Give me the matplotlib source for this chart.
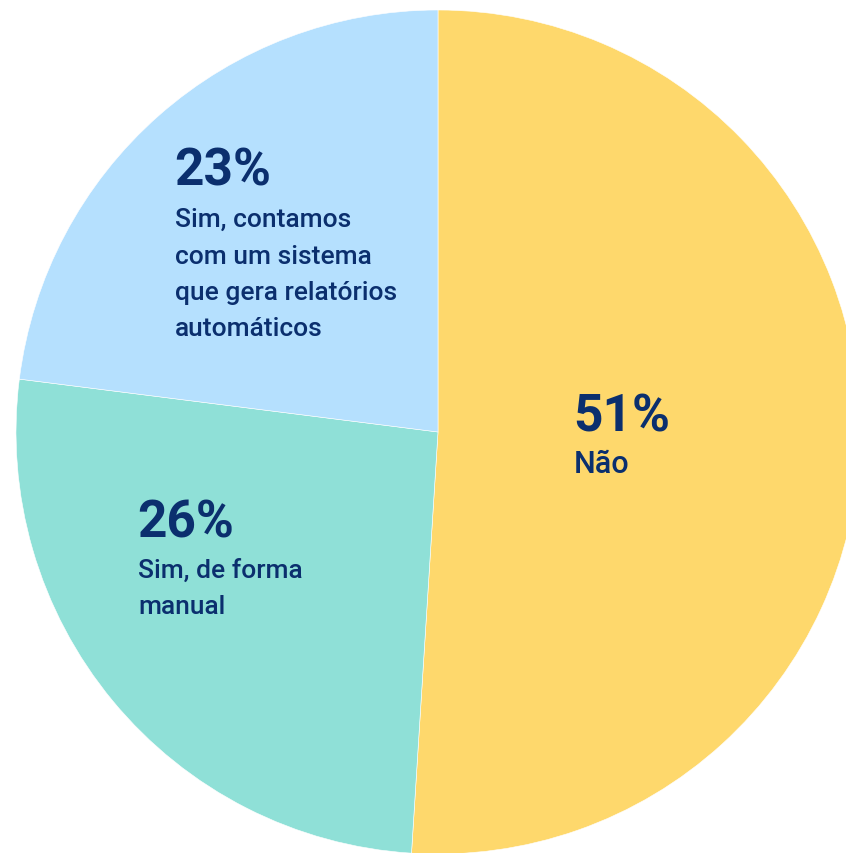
import matplotlib
matplotlib.use("Agg")
import matplotlib.pyplot as plt

# Survey answers, clockwise from the top
percentages = [51, 26, 23]
answers = [
    ["Não"],
    ["Sim, de forma", "manual"],
    ["Sim, contamos", "com um sistema", "que gera relatórios", "automáticos"],
]
colors = ["#FED86C", "#8FE0D7", "#B5E0FE"]
text_color = "#0B2F6E"

W, H = 846, 854
fig = plt.figure(figsize=(W / 100, H / 100), dpi=100)
ax = fig.add_axes([0, 0, 1, 1])

cx, cy, r = 438, H - 433, 422
ax.pie(percentages, colors=colors, startangle=90, counterclock=False,
       center=(cx, cy), radius=r, frame=True,
       wedgeprops=dict(linewidth=0.4, edgecolor="white"))
ax.set_xlim(0, W)
ax.set_ylim(0, H)
ax.axis("off")

# label anchors: (left x, baseline of percentage, baseline of first text line, text size)
anchors = [(573, 432, 473, 22), (137, 538, 578, 19), (174, 186, 227, 19)]
line_step = 36.5

for pct, lines, (x, pb, lb, fs) in zip(percentages, answers, anchors):
    ax.text(x, H - pb, f"{pct}%", family="Roboto", weight="bold",
            fontsize=37, color=text_color, va="baseline", ha="left")
    for i, line in enumerate(lines):
        ax.text(x + 1, H - (lb + i * line_step), line, family="Roboto",
                weight="medium", fontsize=fs, color=text_color,
                va="baseline", ha="left")

fig.savefig("out.png", dpi=100)
